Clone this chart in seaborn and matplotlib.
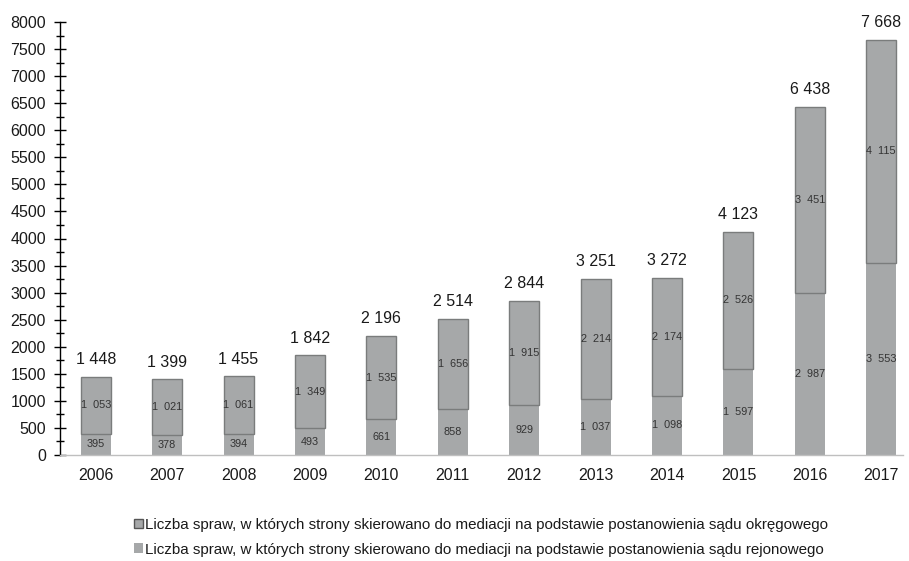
import numpy as np
import pandas as pd
import seaborn as sns
import matplotlib.pyplot as plt
from matplotlib.patches import Patch

years = ['2006', '2007', '2008', '2009', '2010', '2011',
         '2012', '2013', '2014', '2015', '2016', '2017']
rejonowy = [395, 378, 394, 493, 661, 858, 929, 1037, 1098, 1597, 2987, 3553]
okregowy = [1053, 1021, 1061, 1349, 1535, 1656, 1915, 2214, 2174, 2526, 3451, 4115]
totals = [1448, 1399, 1455, 1842, 2196, 2514, 2844, 3251, 3272, 4123, 6438, 7668]

label_okr = 'Liczba spraw, w których strony skierowano do mediacji na podstawie postanowienia sądu okręgowego'
label_rej = 'Liczba spraw, w których strony skierowano do mediacji na podstawie postanowienia sądu rejonowego'

df = pd.DataFrame({'rok': years, 'rejonowy': rejonowy, 'okregowy': okregowy})

sns.set_style('white')
plt.rcParams['font.family'] = ['Liberation Sans', 'DejaVu Sans']

fill = '#a6a8a9'
edge = '#7a7c7c'

fig = plt.figure(figsize=(9.09, 5.61), dpi=100)
ax = fig.add_axes([60 / 909, 1 - 455 / 561, 857 / 909, 433 / 561])

# bottom segment (sąd rejonowy)
sns.barplot(data=df, x='rok', y='rejonowy', order=years, color=fill,
            width=0.42, saturation=1, linewidth=0, ax=ax)
# top segment (sąd okręgowy), stacked
sns.barplot(data=df, x='rok', y='okregowy', order=years, color=fill,
            width=0.42, saturation=1, bottom=df['rejonowy'],
            edgecolor=edge, linewidth=1.0, ax=ax)


def fmt(v, sep=' '):
    return f'{v:,}'.replace(',', sep)


for i, (r, o, t) in enumerate(zip(rejonowy, okregowy, totals)):
    ax.text(i, r / 2, fmt(r, '  '), ha='center', va='center', fontsize=7.8, color='#333333')
    ax.text(i, r + o / 2, fmt(o, '  '), ha='center', va='center', fontsize=7.8, color='#333333')
    ax.annotate(fmt(t), (i, t), xytext=(0, 7), textcoords='offset points',
                ha='center', va='bottom', fontsize=11.5, color='#1a1a1a')

ax.set_ylim(0, 8000)
ax.set_xlim(-0.5, 11.5)
ax.set_yticks(np.arange(0, 8001, 500))
ax.set_yticks(np.arange(250, 8000, 500), minor=True)
ax.set_xlabel('')
ax.set_ylabel('')

for s in ['top', 'right']:
    ax.spines[s].set_visible(False)
ax.spines['left'].set_color('black')
ax.spines['left'].set_linewidth(1.0)
ax.spines['bottom'].set_color('#bfbfbf')
ax.spines['bottom'].set_linewidth(1.0)
ax.spines['bottom'].set_bounds(-0.5, 11.3)

ax.tick_params(axis='y', which='major', direction='inout', length=8, width=1,
               color='black', labelsize=11.5, pad=6, left=True)
ax.tick_params(axis='y', which='minor', direction='inout', length=6, width=1,
               color='black', left=True)
ax.tick_params(axis='x', length=0, labelsize=11.5, pad=9)
for lab in ax.get_yticklabels() + ax.get_xticklabels():
    lab.set_color('#1a1a1a')

handles = [Patch(facecolor=fill, edgecolor='#555555', linewidth=1.0, label=label_okr),
           Patch(facecolor=fill, edgecolor='none', label=label_rej)]
fig.legend(handles=handles, loc='upper left', bbox_to_anchor=(134 / 909, 1 - 518 / 561),
           frameon=False, fontsize=10.9, handlelength=0.6, handleheight=0.6,
           handletextpad=0.1, labelspacing=0.7, borderaxespad=0, borderpad=0,
           labelcolor='#1a1a1a')

fig.savefig('out.png', dpi=100)
